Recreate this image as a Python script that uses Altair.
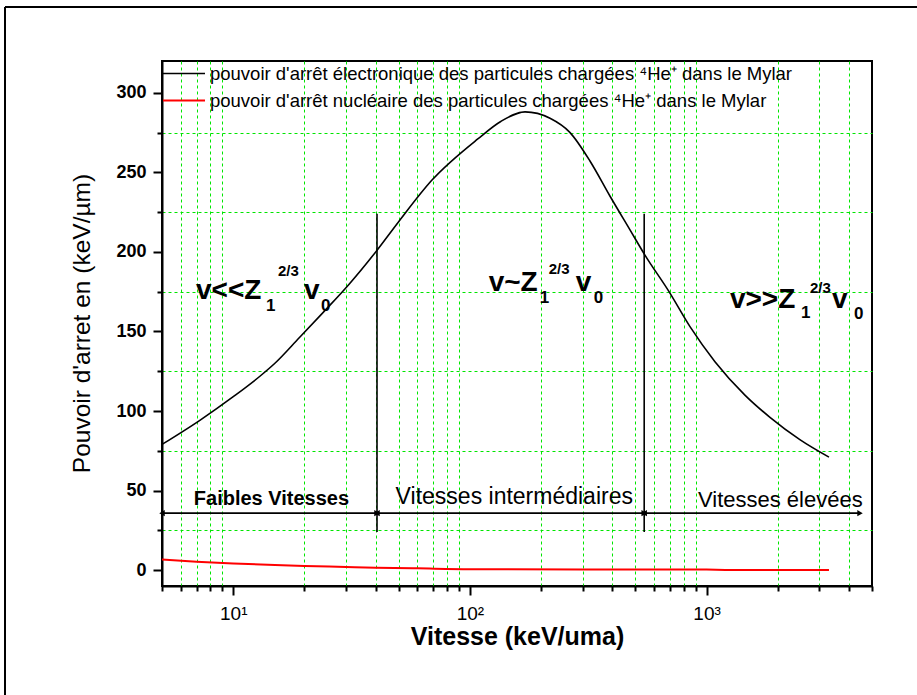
import altair as alt
import pandas as pd

FONT = "Liberation Sans"

# ---------------- data ----------------
elec_x = [5, 7.2, 10, 13, 15, 19, 24, 31, 40, 50, 69, 108, 135, 171, 218, 265,
          322, 391, 474, 549, 694, 851, 1085, 1452, 1853, 2478, 3290]
elec_y = [79, 94, 109, 122, 130, 146, 162, 180, 200, 219, 245, 271, 282, 288, 284, 275,
          257, 235, 214, 198, 175, 153, 131, 110, 96, 82, 71]

nuc_x = [5, 7, 10, 15, 20, 30, 40, 60, 100, 300, 1000, 1200, 3290]
nuc_y = [6.6, 5.3, 4.2, 3.2, 2.6, 2.0, 1.5, 1.1, 0.6, 0.4, 0.3, 0.1, 0.0]

series_names = [
    "pouvoir d'arrêt électronique des particules chargées ⁴He⁺ dans le Mylar",
    "pouvoir d'arrêt nucléaire des particules chargées ⁴He⁺ dans le Mylar",
]
series_colors = ["#000000", "#ff0000"]

x_ticks = [5, 6, 7, 8, 9, 10, 20, 30, 40, 50, 60, 70, 80, 90, 100, 200, 300, 400,
           500, 600, 700, 800, 900, 1000, 2000, 3000, 4000, 5000]
y_ticks = [0, 25, 50, 75, 100, 125, 150, 175, 200, 225, 250, 275, 300]

# velocity regions
region_start = [5, 40.5, 545]
region_end = [40.5, 545, 4450]
region_labels = ["Faibles Vitesses", "Vitesses intermédiaires", "Vitesses élevées"]
region_label_x = [14.5, 154, 2050]
region_label_y = [41, 41.5, 39.5]
arrow_y = 35.8
divider_x = [40.5, 545]
divider_low = [24, 24]
divider_high = [224, 224]

# formula anchors (v<<Z1^2/3 v0, v~Z1^2/3 v0, v>>Z1^2/3 v0)
formula_text = ["v<<Z", "v~Z", "v>>Z"]
formula_x = [6.96, 120, 1255]
formula_y = [170.4, 175.5, 165]

# ---------------- scales / axes ----------------
xs = alt.Scale(type="log", domain=[5, 5000], nice=False)
ys = alt.Scale(domain=[-10, 320], nice=False, zero=False)

major_x = "datum.value==10||datum.value==100||datum.value==1000"
x_axis = alt.Axis(
    values=x_ticks,
    title="Vitesse (keV/uma)",
    titleFont=FONT, titleFontSize=25, titleFontWeight="bold", titleColor="black",
    titleX=355, titleY=58, titleAlign="center", titleBaseline="alphabetic",
    labelExpr="datum.value==10?'10¹':datum.value==100?'10²':datum.value==1000?'10³':''",
    labelFont=FONT, labelFontSize=19, labelColor="black", labelPadding=9,
    labelOverlap=False, labelFlush=False,
    tickSize={"condition": {"test": major_x, "value": 9}, "value": 5},
    tickWidth=2, tickColor="black",
    domainColor="black", domainWidth=2,
    grid=True, gridColor="#00e600", gridDash=[3, 3], gridWidth=1,
    gridOpacity={"condition": {"test": major_x + "||datum.value==5||datum.value==5000", "value": 0}, "value": 1},
)

major_y = "datum.value % 50 == 0"
y_axis = alt.Axis(
    values=y_ticks,
    title="Pouvoir d'arret en (keV/µm)",
    titleFont=FONT, titleFontSize=24.5, titleFontWeight="normal", titleColor="black",
    titleX=-80, titleY=262, titleAngle=-90, titleAlign="center", titleBaseline="middle",
    labelExpr="datum.value % 50 == 0 ? datum.label : ''",
    labelFont=FONT, labelFontSize=18, labelFontWeight="bold", labelColor="black", labelPadding=7,
    labelOverlap=False, labelFlush=False,
    tickSize={"condition": {"test": major_y, "value": 9}, "value": 5},
    tickWidth=2, tickColor="black",
    domainColor="black", domainWidth=2,
    grid=True, gridColor="#00e600", gridDash=[3, 3], gridWidth=1,
    gridOpacity={"condition": {"test": major_y, "value": 0}, "value": 1},
)


def X(field):
    return alt.X(field, scale=xs, axis=x_axis)


def Y(field):
    return alt.Y(field, scale=ys, axis=y_axis)


# ---------------- tables ----------------
line_df = pd.concat([
    pd.DataFrame({"x": elec_x, "y": elec_y, "series": series_names[0]}),
    pd.DataFrame({"x": nuc_x, "y": nuc_y, "series": series_names[1]}),
], ignore_index=True)

lines = alt.Chart(line_df).mark_line(interpolate="monotone").encode(
    x=X("x:Q"),
    y=Y("y:Q"),
    color=alt.Color("series:N", scale=alt.Scale(domain=series_names, range=series_colors),
                    legend=alt.Legend(title=None, orient="none", legendX=0, legendY=0,
                                      symbolType="stroke", symbolSize=1764, symbolStrokeWidth=1.6,
                                      clipHeight=25, rowPadding=2, padding=0,
                                      labelFont=FONT, labelFontSize=18.5, labelColor="black",
                                      labelOffset=4, labelLimit=1000)),
    strokeWidth=alt.StrokeWidth("series:N", scale=alt.Scale(domain=series_names, range=[1.6, 2]),
                                legend=None),
)

div_df = pd.DataFrame({"x": divider_x, "lo": divider_low, "hi": divider_high})
dividers = alt.Chart(div_df).mark_rule(color="black", strokeWidth=1.6).encode(
    x=X("x:Q"), y=Y("lo:Q"), y2="hi:Q",
)

reg_df = pd.DataFrame({"x0": region_start, "x1": region_end, "y": [arrow_y] * 3,
                       "lx": region_label_x, "ly": region_label_y, "label": region_labels})
arrows = alt.Chart(reg_df).mark_rule(color="black", strokeWidth=1.6).encode(
    x=X("x0:Q"), x2="x1:Q", y=Y("y:Q"),
)
heads_left = alt.Chart(reg_df).mark_point(shape="triangle-left", filled=True, color="black",
                                          size=40, opacity=1, dx=3).encode(x=X("x0:Q"), y=Y("y:Q"))
heads_right = alt.Chart(reg_df).mark_point(shape="triangle-right", filled=True, color="black",
                                           size=40, opacity=1, dx=-3).encode(x=X("x1:Q"), y=Y("y:Q"))

reg_weights = ["bold", "normal", "normal"]
reg_sizes = [20, 23, 22]
region_texts = []
for i in range(3):
    region_texts.append(
        alt.Chart(reg_df.iloc[[i]]).mark_text(font=FONT, fontSize=reg_sizes[i], fontWeight=reg_weights[i],
                                               align="center", baseline="alphabetic", color="black").encode(
            x=X("lx:Q"), y=Y("ly:Q"), text="label:N"))

# formula pieces: (text, dx, dy, size) per formula
piece_layout = [
    [("1", 70, 12, 17), ("2/3", 82, -23, 15), ("v", 108, 0, 28), ("0", 125, 12, 17)],
    [("1", 51, 12, 17), ("2/3", 60, -17, 15), ("v", 87, 0, 28), ("0", 105, 12, 17)],
    [("1", 71, 10, 17), ("2/3", 80, -15, 15), ("v", 102, 0, 28), ("0", 124, 11, 17)],
]
formula_layers = []
for i in range(3):
    fdf = pd.DataFrame({"x": [formula_x[i]], "y": [formula_y[i]], "t": [formula_text[i]]})
    formula_layers.append(
        alt.Chart(fdf).mark_text(font=FONT, fontSize=28, fontWeight="bold", align="left",
                                 baseline="alphabetic", color="black").encode(
            x=X("x:Q"), y=Y("y:Q"), text="t:N"))
    for txt, dx, dy, size in piece_layout[i]:
        formula_layers.append(
            alt.Chart(fdf).mark_text(text=txt, font=FONT, fontSize=size, fontWeight="bold", align="left",
                                     baseline="alphabetic", dx=dx, dy=dy, color="black").encode(
                x=X("x:Q"), y=Y("y:Q")))

# outer page frame (decoration)
one = pd.DataFrame({"k": [0]})
frame_top = alt.Chart(one).mark_rule(color="black", strokeWidth=2).encode(
    x=alt.value(-157), x2=alt.value(760), y=alt.value(-54))
frame_left = alt.Chart(one).mark_rule(color="black", strokeWidth=2).encode(
    x=alt.value(-157), y=alt.value(-54), y2=alt.value(640))

chart = alt.layer(
    lines, dividers, arrows, heads_left, heads_right, *region_texts, *formula_layers,
    frame_top, frame_left,
).properties(
    width=710, height=525,
    autosize=alt.AutoSizeParams(type="none"),
    padding={"left": 162, "top": 61, "right": 45, "bottom": 109},
    background="white",
).configure_view(stroke="black", strokeWidth=2)

chart.save("out.html", embed_options={"renderer": "svg", "actions": False})
